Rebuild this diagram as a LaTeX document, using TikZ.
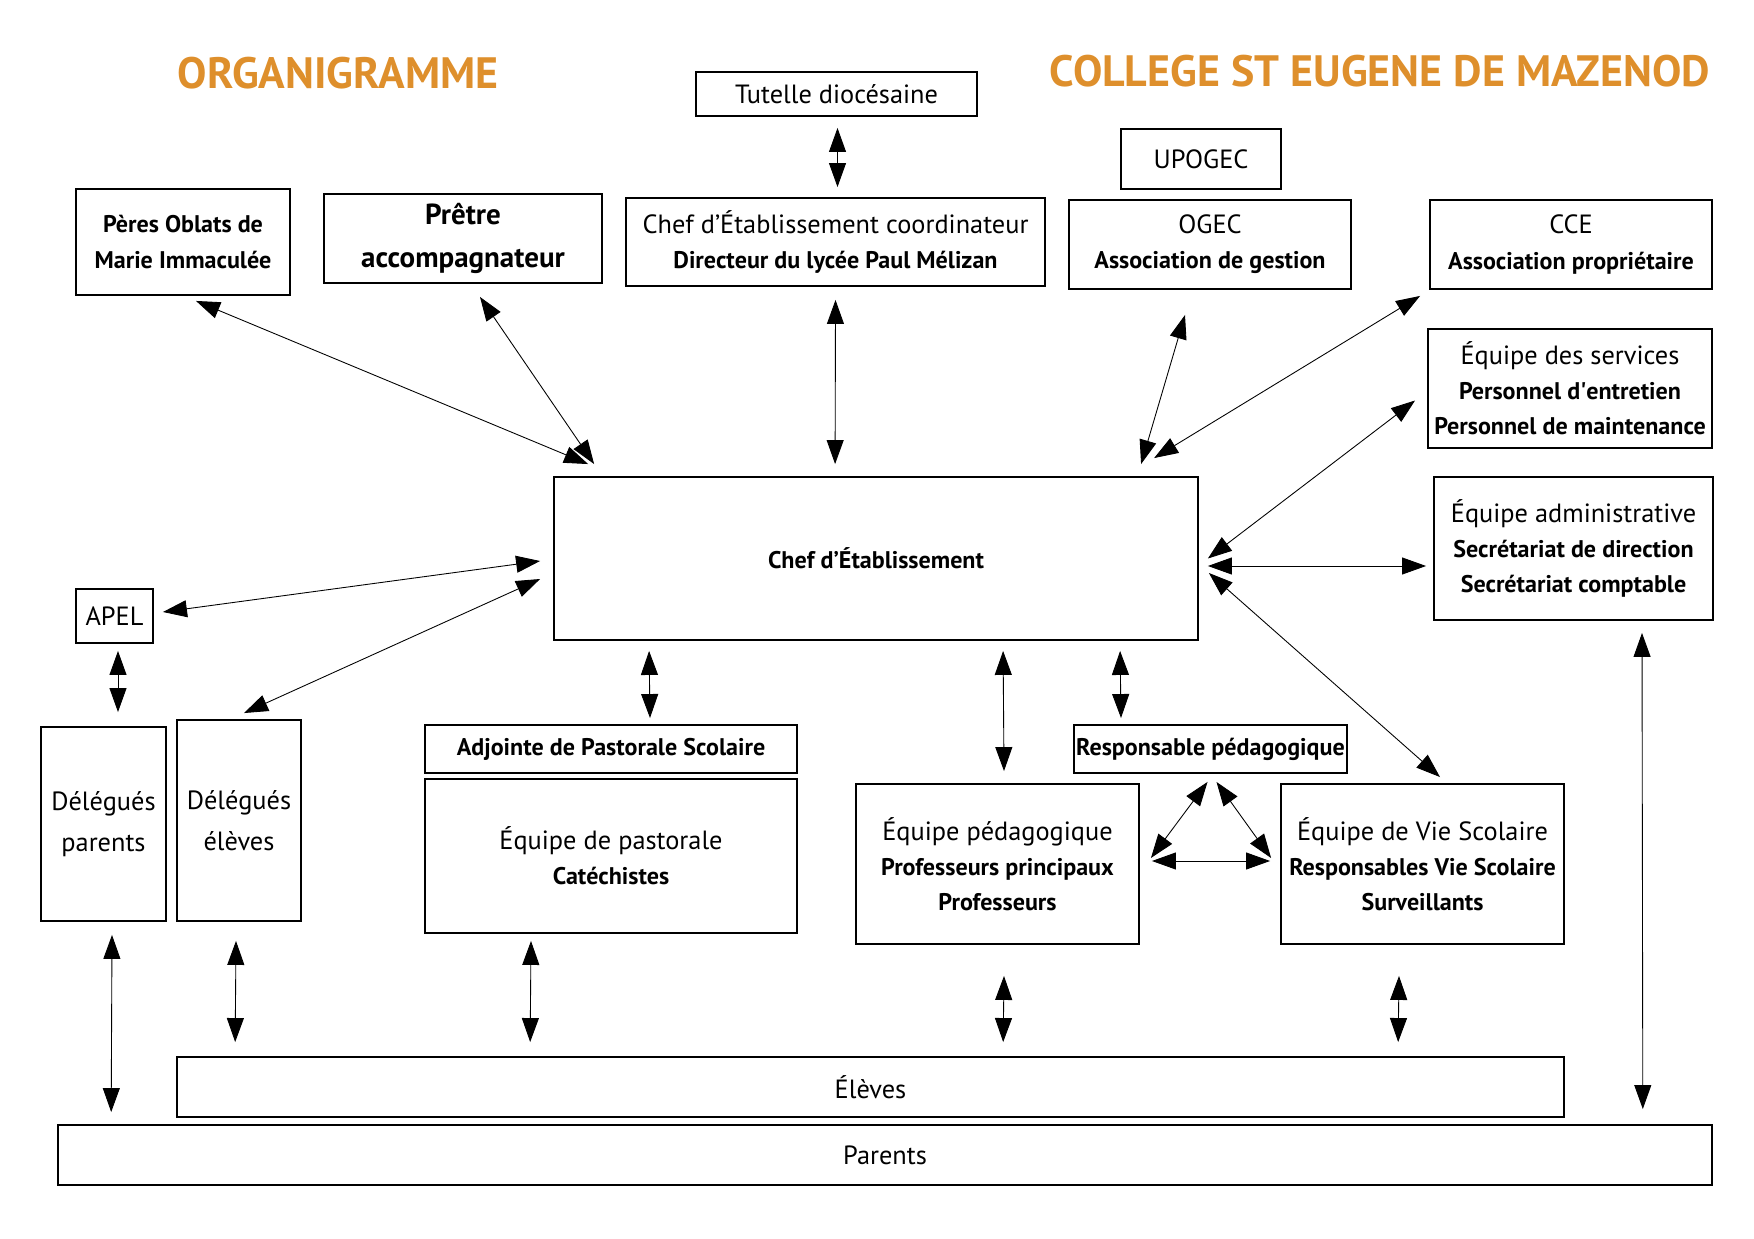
\documentclass[tikz,border=0pt]{standalone}
\usepackage{fontspec}
\setmainfont{PT Sans}
\usetikzlibrary{arrows.meta, positioning, calc, shapes.geometric}
\definecolor{titleorange}{RGB}{222,143,44}
\newcommand{\bigtxt}{\fontsize{15}{20}\selectfont}
\newcommand{\subtxt}{\fontsize{13.7}{20}\selectfont\bfseries}

\begin{document}
\begin{tikzpicture}[x=0.02cm, y=-0.02cm,
    box/.style={draw, line width=1.1pt, rectangle, align=center, inner sep=0pt, font=\bigtxt},
    link/.style={{Triangle[length=0.48cm,width=0.34cm]}-{Triangle[length=0.48cm,width=0.34cm]}, line width=0.5pt},
    title/.style={font=\fontsize{25}{30}\selectfont\bfseries, text=titleorange}]
    \useasboundingbox (0,0) rectangle (1754,1239);

    \node[title] (orga) at (338,73) {ORGANIGRAMME};
    \node[title] (college) at (1380,71) {COLLEGE ST EUGENE DE MAZENOD};

    % top row
    \node[box, minimum width=5.62cm, minimum height=0.88cm] (tutelle) at (836.5,94) {Tutelle diocésaine};
    \node[box, minimum width=3.2cm, minimum height=1.2cm] (upogec) at (1201,159) {UPOGEC};
    \node[box, minimum width=4.28cm, minimum height=2.12cm, font=\subtxt] (peres) at (183,242) {Pères Oblats de\\Marie Immaculée};
    \node[box, minimum width=5.56cm, minimum height=1.78cm, font=\fontsize{16.5}{24}\selectfont\bfseries] (pretre) at (463,238.5) {Prêtre\\accompagnateur};
    \node[box, minimum width=8.38cm, minimum height=1.76cm] (chefc) at (835.5,242) {Chef d’Établissement coordinateur\\\subtxt Directeur du lycée Paul Mélizan};
    \node[box, minimum width=5.64cm, minimum height=1.78cm] (ogec) at (1210,244.5) {OGEC\\\subtxt Association de gestion};
    \node[box, minimum width=5.64cm, minimum height=1.78cm] (cce) at (1571,244.5) {CCE\\\subtxt Association propriétaire};

    % middle
    \node[box, minimum width=5.68cm, minimum height=2.38cm] (services) at (1570,388.5) {Équipe des services\\\subtxt Personnel d\textquotesingle entretien\\\subtxt Personnel de maintenance};
    \node[box, minimum width=12.88cm, minimum height=3.26cm, font=\subtxt] (chef) at (876,558.5) {Chef d’Établissement};
    \node[box, minimum width=5.58cm, minimum height=2.86cm] (admin) at (1573.5,548.5) {Équipe administrative\\\subtxt Secrétariat de direction\\\subtxt Secrétariat comptable};
    \node[box, minimum width=1.54cm, minimum height=1.08cm] (apel) at (114.5,616) {APEL};

    % teams
    \node[box, minimum width=2.5cm, minimum height=3.88cm, font=\fontsize{15}{23}\selectfont] (delp) at (103.5,824) {Délégués\\parents};
    \node[box, minimum width=2.48cm, minimum height=4.02cm, font=\fontsize{15}{23}\selectfont] (dele) at (239,820.5) {Délégués\\élèves};
    \node[box, minimum width=7.44cm, minimum height=0.96cm, font=\subtxt] (adjointe) at (611,749) {Adjointe de Pastorale Scolaire};
    \node[box, minimum width=7.44cm, minimum height=3.08cm] (pastorale) at (611,856) {Équipe de pastorale\\\subtxt Catéchistes};
    \node[box, minimum width=5.46cm, minimum height=0.96cm, font=\subtxt] (resp) at (1210.5,749) {Responsable pédagogique};
    \node[box, minimum width=5.66cm, minimum height=3.2cm] (peda) at (997.5,864) {Équipe pédagogique\\\subtxt Professeurs principaux\\\subtxt Professeurs};
    \node[box, minimum width=5.66cm, minimum height=3.2cm] (vie) at (1422.5,864) {Équipe de Vie Scolaire\\\subtxt Responsables Vie Scolaire\\\subtxt Surveillants};

    % bottom
    \node[box, minimum width=27.74cm, minimum height=1.2cm] (eleves) at (870.5,1087) {Élèves};
    \node[box, minimum width=33.08cm, minimum height=1.2cm] (parents) at (885,1155) {Parents};

    % links to the head
    \draw[link] ($(tutelle.south)+(1,11)$) -- ($(chefc.north)+(2,-10)$);
    \draw[link] ($(peres.south)+(13,5)$) -- ($(chef.north west)+(35,-12)$);
    \draw[link] ($(pretre.south)+(17,13)$) -- ($(chef.north west)+(41,-12)$);
    \draw[link] ($(chefc.south)+(0,13)$) -- ($(chef.north west)+(282,-12)$);
    \draw[link] ($(ogec.south)+(-25,25)$) -- ($(chef.north west)+(588,-12)$);
    \draw[link] ($(cce.south west)+(-9,6)$) -- ($(chef.north west)+(601,-18)$);
    \draw[link] ($(services.west)+(-12,12)$) -- ($(chef.east)+(9,0)$);
    \draw[link] ($(admin.west)+(-7,17.5)$) -- ($(chef.east)+(9,7.5)$);
    \draw[link] ($(chef.east)+(10,14.5)$) -- ($(vie.north)+(17.5,-6)$);
    \draw[link] ($(chef.west)+(-13,2.5)$) -- ($(apel.east)+(9,-4)$);
    \draw[link] ($(chef.west)+(-13,20.5)$) -- ($(dele.north)+(5,-6)$);
    \draw[link] ($(apel.south)+(3.5,7)$) -- ($(delp.north)+(14.5,-14)$);
    \draw[link] ($(chef.south west)+(96,10)$) -- ($(adjointe.north)+(39,-6)$);
    \draw[link] ($(chef.south west)+(450,10)$) -- ($(peda.north)+(6.5,-12)$);
    \draw[link] ($(chef.south west)+(567,10)$) -- ($(resp.north)+(-89.5,-6)$);

    % pedagogical triangle
    \draw[link] ($(resp.south)+(-3,8)$) -- ($(peda.east)+(11,-6)$);
    \draw[link] ($(resp.south)+(6,8)$) -- ($(vie.west)+(-9,-6)$);
    \draw[link] ($(peda.east)+(12,-3)$) -- ($(vie.west)+(-10,-3)$);

    % links to pupils and parents
    \draw[link] ($(delp.south)+(8.5,13)$) -- ($(parents.north west)+(54,-12)$);
    \draw[link] ($(dele.south)+(-3,19)$) -- ($(eleves.north west)+(59,-14)$);
    \draw[link] ($(pastorale.south)+(-80,7)$) -- ($(eleves.north west)+(354,-14)$);
    \draw[link] ($(peda.south)+(6.5,31)$) -- ($(eleves.north west)+(827,-14)$);
    \draw[link] ($(vie.south)+(-23.5,31)$) -- ($(eleves.north west)+(1222,-14)$);
    \draw[link] ($(admin.south)+(68.5,12)$) -- ($(parents.north east)+(-70,-15)$);
\end{tikzpicture}
\end{document}
